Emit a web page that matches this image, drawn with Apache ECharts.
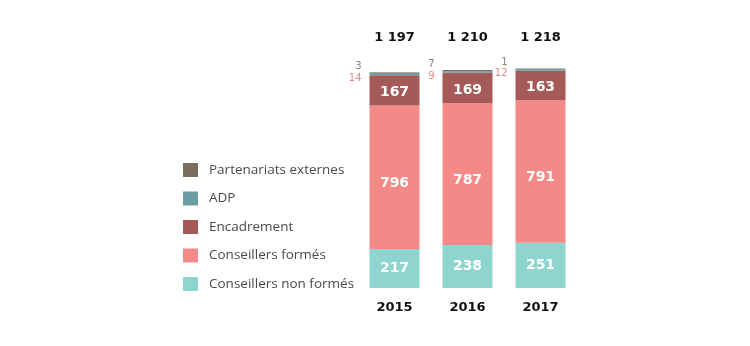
<!DOCTYPE html>
<html><head><meta charset="utf-8">
<script src="https://cdn.jsdelivr.net/npm/echarts@6/dist/echarts.min.js"></script>
<style>html,body{margin:0;padding:0;background:#fff}#c{width:750px;height:346px}</style>
</head><body><div id="c"></div>
<script>
const years = ['2015', '2016', '2017'];
const nonFormes = [217, 238, 251];
const formes = [796, 787, 791];
const encadrement = [167, 169, 163];
const adp = [14, 9, 12];
const partenariats = [3, 7, 1];
const seriesNames = ['Conseillers non formés', 'Conseillers formés', 'Encadrement', 'ADP', 'Partenariats externes'];

const totals = years.map((_, i) => nonFormes[i] + formes[i] + encadrement[i] + adp[i] + partenariats[i]);
const fmt = n => String(n).replace(/\B(?=(\d{3})+(?!\d))/g, ' ');

const chart = echarts.init(document.getElementById('c'));
const bigLabel = off => ({show: true, position: 'inside', offset: [0, off], color: '#fff', fontWeight: 'bold', fontSize: 14, fontFamily: 'DejaVu Sans'});
chart.setOption({
  animation: false,
  grid: {left: 358, right: 173, top: 60, bottom: 58},
  legend: {
    orient: 'vertical', left: 183, top: 163, padding: 0, itemWidth: 15, itemHeight: 14, itemGap: 14.5,
    icon: 'rect',
    data: [seriesNames[4], seriesNames[3], seriesNames[2], seriesNames[1], seriesNames[0]],
    textStyle: {fontFamily: 'Open Sans', fontSize: 13.5, color: '#4a4a4a', padding: [0, 0, 0, 6]}
  },
  xAxis: [
    {type: 'category', data: years, axisLine: {show: false}, axisTick: {show: false},
     axisLabel: {margin: 13, color: '#111', fontWeight: 'bold', fontSize: 13, fontFamily: 'DejaVu Sans'}},
    {type: 'category', position: 'top', data: years, axisLine: {show: false}, axisTick: {show: false},
     axisLabel: {margin: 16, color: '#111', fontWeight: 'bold', fontSize: 13, fontFamily: 'DejaVu Sans',
       formatter: (v, i) => fmt(totals[i])}}
  ],
  yAxis: {type: 'value', min: 0, max: 1265, show: false, splitLine: {show: false}},
  series: [
    {name: seriesNames[0], type: 'bar', stack: 't', barWidth: 50, data: nonFormes, itemStyle: {color: '#8fd5cf'}, label: bigLabel(0)},
    {name: seriesNames[1], type: 'bar', stack: 't', data: formes, itemStyle: {color: '#f48a87'}, label: bigLabel(6)},
    {name: seriesNames[2], type: 'bar', stack: 't', data: encadrement, itemStyle: {color: '#a65a57'}, label: bigLabel(2)},
    {name: seriesNames[3], type: 'bar', stack: 't', data: adp, itemStyle: {color: '#6a9ca3'},
     label: {show: true, position: 'left', distance: 8, offset: [0, 4], color: '#e3888a', fontSize: 10, fontFamily: 'DejaVu Sans'}},
    {name: seriesNames[4], type: 'bar', stack: 't', data: partenariats, itemStyle: {color: '#7b6d5b'},
     label: {show: true, position: 'left', distance: 8, offset: [0, -6], color: '#8c8078', fontSize: 10, fontFamily: 'DejaVu Sans'}}
  ]
});
</script></body></html>
